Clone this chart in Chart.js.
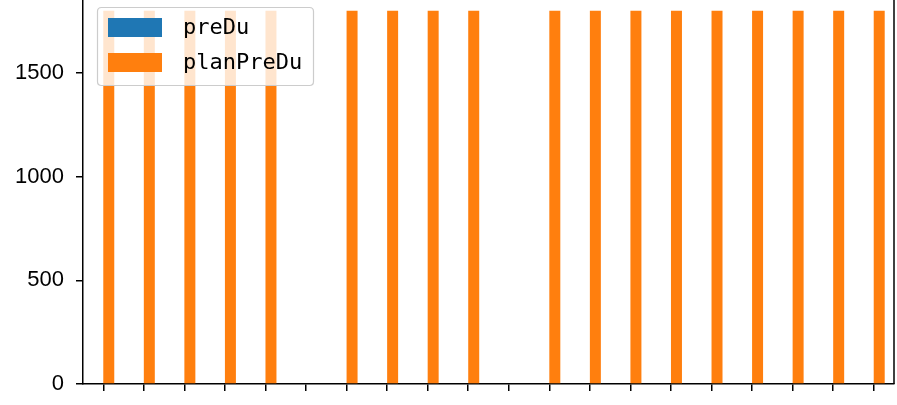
<!DOCTYPE html>
<html>
<head>
<meta charset="utf-8">
<script src="https://cdn.jsdelivr.net/npm/chart.js@4.4.0/dist/chart.umd.min.js"></script>
<style>
  html, body { margin: 0; padding: 0; background: #fff; overflow: hidden; }
  #wrap { position: relative; width: 897px; height: 405px; }
</style>
</head>
<body>
<div id="wrap"><canvas id="canvasChart"></canvas></div>
<script>
// 20 categories, no visible tick labels
var categories = ["1", "2", "3", "4", "5", "6", "7", "8", "9", "10",
                  "11", "12", "13", "14", "15", "16", "17", "18", "19", "20"];
var preDu = [0, 0, 0, 0, 0, 0, 0, 0, 0, 0, 0, 0, 0, 0, 0, 0, 0, 0, 0, 0];
var planPreDu = [1800, 1800, 1800, 1800, 1800, 0, 1800, 1800, 1800, 1800,
                 0, 1800, 1800, 1800, 1800, 1800, 1800, 1800, 1800, 1800];
var yTicks = [0, 500, 1000, 1500];

var blue = "#1f77b4";
var orange = "#ff7f0e";

// right spine + matplotlib style legend drawn over the plot
var framePlugin = {
  id: "frame",
  afterDraw: function(chart) {
    var ctx = chart.ctx;
    var area = chart.chartArea;
    ctx.save();
    ctx.strokeStyle = "#000";
    ctx.lineWidth = 1.5;
    ctx.beginPath();
    ctx.moveTo(area.right, area.top);
    ctx.lineTo(area.right, area.bottom);
    ctx.stroke();

    // legend box
    var x = 97.5, y = 7.5, w = 216, h = 78, r = 4;
    ctx.beginPath();
    ctx.moveTo(x + r, y);
    ctx.lineTo(x + w - r, y);
    ctx.quadraticCurveTo(x + w, y, x + w, y + r);
    ctx.lineTo(x + w, y + h - r);
    ctx.quadraticCurveTo(x + w, y + h, x + w - r, y + h);
    ctx.lineTo(x + r, y + h);
    ctx.quadraticCurveTo(x, y + h, x, y + h - r);
    ctx.lineTo(x, y + r);
    ctx.quadraticCurveTo(x, y, x + r, y);
    ctx.closePath();
    ctx.fillStyle = "rgba(255,255,255,0.8)";
    ctx.fill();
    ctx.strokeStyle = "#cccccc";
    ctx.lineWidth = 1.2;
    ctx.stroke();

    var ds = chart.data.datasets;
    ctx.font = "22px 'DejaVu Sans Mono'";
    ctx.textBaseline = "middle";
    ctx.textAlign = "left";
    for (var i = 0; i < ds.length; i++) {
      var py = 18 + i * 35;
      ctx.fillStyle = ds[i].backgroundColor;
      ctx.fillRect(108, py, 54, 19);
      ctx.fillStyle = "#000";
      ctx.fillText(ds[i].label, 183, py + 10);
    }
    ctx.restore();
  }
};

var config = {
  type: "bar",
  data: {
    labels: categories,
    datasets: [
      { label: "preDu", data: preDu, backgroundColor: blue, borderWidth: 0 },
      { label: "planPreDu", data: planPreDu, backgroundColor: orange, borderWidth: 0 }
    ]
  },
  options: {
    responsive: false,
    animation: false,
    layout: { padding: { left: 0, right: 3, top: 0, bottom: 0 } },
    datasets: {
      bar: { categoryPercentage: 0.542, barPercentage: 1.0 }
    },
    plugins: {
      legend: { display: false },
      tooltip: { enabled: false }
    },
    scales: {
      x: {
        offset: true,
        grid: { offset: false, drawOnChartArea: false, drawTicks: true, tickLength: 7, color: "#000", lineWidth: 1.5 },
        border: { display: true, color: "#000", width: 1.5 },
        ticks: { display: false, autoSkip: false },
        afterFit: function(scale) { scale.height = 21; scale.paddingLeft = 0; scale.paddingRight = 0; }
      },
      y: {
        min: 0,
        max: 1852,
        grid: { drawOnChartArea: false, drawTicks: true, tickLength: 7, color: "#000", lineWidth: 1.5 },
        border: { display: true, color: "#000", width: 1.5 },
        ticks: {
          color: "#000",
          font: { family: "'Liberation Sans'", size: 22 },
          padding: 12,
          includeBounds: false,
          callback: function(value) { return String(value); }
        },
        afterBuildTicks: function(scale) {
          scale.ticks = yTicks.map(function(v) { return { value: v }; });
        },
        afterFit: function(scale) { scale.width = 83; scale.paddingTop = 0; scale.paddingBottom = 0; }
      }
    }
  },
  plugins: [framePlugin]
};

var canvas = document.getElementById("canvasChart");
canvas.width = 897;
canvas.height = 405;
var chart = new Chart(canvas, config);
</script>
</body>
</html>
